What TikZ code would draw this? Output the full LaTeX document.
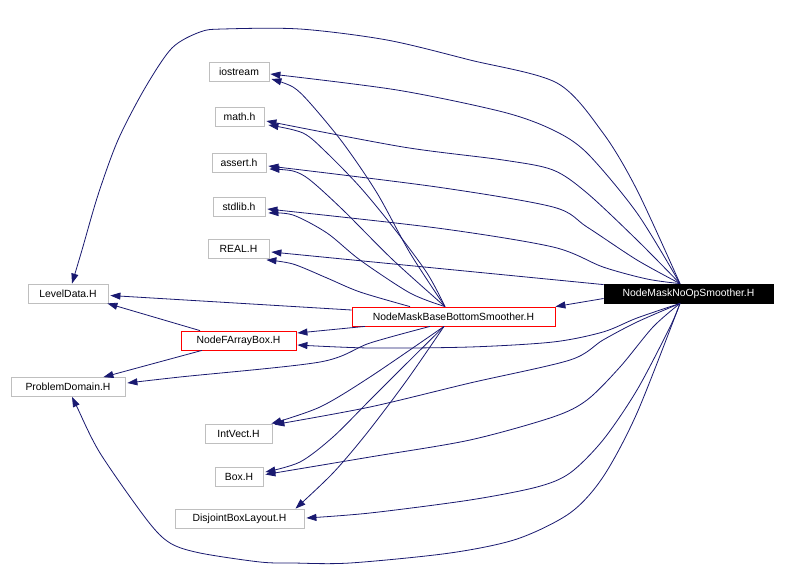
\documentclass[tikz,border=0pt]{standalone}
\usepackage{fontspec}
\setmainfont{Liberation Sans}
\usetikzlibrary{arrows.meta,calc}
\definecolor{edgeblue}{RGB}{25,25,112}
\definecolor{boxgray}{RGB}{191,191,191}
\begin{document}
\begin{tikzpicture}[x=1pt,y=-1pt,
  hbox/.style={draw=boxgray, line width=0.8pt, minimum height=19pt, inner sep=0pt, font=\fontsize{10.4}{12}\selectfont, fill=white},
  redbox/.style={hbox, draw=red},
  mainbox/.style={hbox, draw=black, fill=black, text=white},
  edge/.style={draw=edgeblue, line width=0.8pt, -{Triangle[length=10pt,width=7pt]}}]
\useasboundingbox (0,0) rectangle (786,581);
\fill[white] (0,0) rectangle (786,581);

\node[mainbox, minimum width=169pt] (N) at (688.5,293.5) {NodeMaskNoOpSmoother.H};
\node[redbox, minimum width=203pt] (M) at (453.5,316.5) {NodeMaskBaseBottomSmoother.H};
\node[redbox, minimum width=115pt] (NF) at (238.5,340.5) {NodeFArrayBox.H};
\node[hbox, minimum width=80pt] (LD) at (68,293.5) {LevelData.H};
\node[hbox, minimum width=114pt] (PD) at (68,387) {ProblemDomain.H};
\node[hbox, minimum width=60pt] (io) at (239,71.5) {iostream};
\node[hbox, minimum width=49pt] (ma) at (239.5,117) {math.h};
\node[hbox, minimum width=54pt] (as) at (239,162.5) {assert.h};
\node[hbox, minimum width=52pt] (sl) at (239,206.5) {stdlib.h};
\node[hbox, minimum width=61pt] (RE) at (238.5,249) {REAL.H};
\node[hbox, minimum width=67pt] (IV) at (238.5,433.5) {IntVect.H};
\node[hbox, minimum width=48pt] (BX) at (239,476.5) {Box.H};
\node[hbox, minimum width=129pt] (DB) at (239.5,518.5) {DisjointBoxLayout.H};

% source points
\coordinate (NT) at ($(N.north)+(-8.5,0)$);
\coordinate (NB) at ($(N.south)+(-8.5,0)$);
\coordinate (NW1) at ($(N.north west)+(0,1)$);
\coordinate (NW2) at ($(N.west)+(0,5)$);
\coordinate (MT) at ($(M.north)+(-8.5,0)$);
\coordinate (MT2) at ($(M.north)+(-43.5,0)$);
\coordinate (MB) at ($(M.south)+(-9.5,0)$);
\coordinate (MB2) at ($(M.south)+(-23.5,0)$);
\coordinate (MB3) at ($(M.south)+(-88.5,0)$);
\coordinate (MW) at ($(M.west)+(0,-6.5)$);
\coordinate (NFT) at ($(NF.north)+(-38.5,0)$);
\coordinate (NFB) at ($(NF.south)+(-36.5,0)$);
% target points
\coordinate (LDt) at ($(LD.north)+(4,0)$);
\coordinate (LDr) at ($(LD.east)+(2,2)$);
\coordinate (LDb) at ($(LD.south east)+(-1,0)$);
\coordinate (io1) at ($(io.east)+(1,2.5)$);
\coordinate (io2) at ($(io.east)+(2,7.5)$);
\coordinate (ma1) at ($(ma.east)+(2,4)$);
\coordinate (ma2) at ($(ma.east)+(4,8)$);
\coordinate (as1) at ($(as.east)+(2,3.5)$);
\coordinate (as2) at ($(as.east)+(3,6.5)$);
\coordinate (sl1) at ($(sl.east)+(2,2.5)$);
\coordinate (sl2) at ($(sl.east)+(3,6.5)$);
\coordinate (RE1) at ($(RE.east)+(2,3)$);
\coordinate (RE2) at ($(RE.south east)+(-3,1)$);
\coordinate (NF1) at ($(NF.east)+(1,4.5)$);
\coordinate (NF2) at ($(NF.east)+(1,-7.5)$);
\coordinate (PDr) at ($(PD.east)+(2,-4)$);
\coordinate (PDt) at ($(PD.north east)+(-22,0)$);
\coordinate (PDb) at ($(PD.south)+(4,0)$);
\coordinate (IV1) at ($(IV.north east)+(2,1)$);
\coordinate (IV2) at ($(IV.north east)+(-1,0)$);
\coordinate (BX1) at ($(BX.east)+(2,-2)$);
\coordinate (BX2) at ($(BX.east)+(2,-4.5)$);
\coordinate (DB1) at ($(DB.east)+(2,-0.5)$);
\coordinate (DB2) at ($(DB.north)+(56,0)$);

% edges from NodeMaskNoOpSmoother.H
\draw[edge] plot[smooth] coordinates {(NT) (637,190) (603,133) (557,83) (470,60) (387,40) (300,29) (223,29) (200,32) (172,48) (145,88) (118,140) (98,195) (82,250) (LDt)};
\draw[edge] plot[smooth] coordinates {(NT) (637,213) (587,153) (553,130) (503,112) (397,90) (io1)};
\draw[edge] plot[smooth] coordinates {(NT) (637,240) (587,193) (553,170) (503,160) (403,147) (ma1)};
\draw[edge] plot[smooth] coordinates {(NT) (637,260) (587,227) (553,207) (437,187) (as1)};
\draw[edge] plot[smooth] coordinates {(NT) (647,279) (603,267) (553,247) (437,228) (sl1)};
\draw[edge] (NW1) -- (RE1);
\draw[edge] (NW2) -- (M.north east);
\draw[edge] plot[smooth] coordinates {(NB) (637,318) (603,332) (553,342) (470,347) (370,348) (NF1)};
\draw[edge] plot[smooth] coordinates {(NB) (637,322) (603,340) (570,360) (470,383) (370,407) (IV1)};
\draw[edge] plot[smooth] coordinates {(NB) (653,327) (620,367) (587,400) (553,417) (470,440) (370,457) (BX1)};
\draw[edge] plot[smooth] coordinates {(NB) (670,327) (637,390) (603,440) (570,473) (537,487) (470,500) (370,513) (DB1)};
\draw[edge] plot[smooth] coordinates {(NB) (637,413) (603,477) (570,513) (517,539) (450,553) (350,563) (293,563) (260,562) (200,553) (170,543) (147,520) (100,453) (77,407) (PDb)};

% edges from NodeMaskBaseBottomSmoother.H
\draw[edge] plot[smooth] coordinates {(MT) (410,253) (377,193) (343,143) (310,103) (293,87) (io2)};
\draw[edge] plot[smooth] coordinates {(MT) (427,273) (393,227) (360,187) (327,153) (303,133) (ma2)};
\draw[edge] plot[smooth] coordinates {(MT) (393,260) (343,210) (310,180) (293,171) (as2)};
\draw[edge] plot[smooth] coordinates {(MT) (410,293) (360,260) (327,233) (293,215) (sl2)};
\draw[edge] plot[smooth] coordinates {(MT2) (360,292) (327,278) (293,264) (RE2)};
\draw[edge] (MW) -- (LDr);
\draw[edge] (MB3) -- (NF2);
\draw[edge] plot[smooth] coordinates {(MB2) (370,343) (320,362) (180,377) (PDr)};
\draw[edge] plot[smooth] coordinates {(MB) (370,377) (320,407) (IV2)};
\draw[edge] plot[smooth] coordinates {(MB) (400,370) (370,400) (333,437) (300,462) (BX2)};
\draw[edge] plot[smooth] coordinates {(MB) (407,380) (367,433) (333,473) (DB2)};

% edges from NodeFArrayBox.H
\draw[edge] (NFT) -- (LDb);
\draw[edge] (NFB) -- (PDt);
\end{tikzpicture}
\end{document}
